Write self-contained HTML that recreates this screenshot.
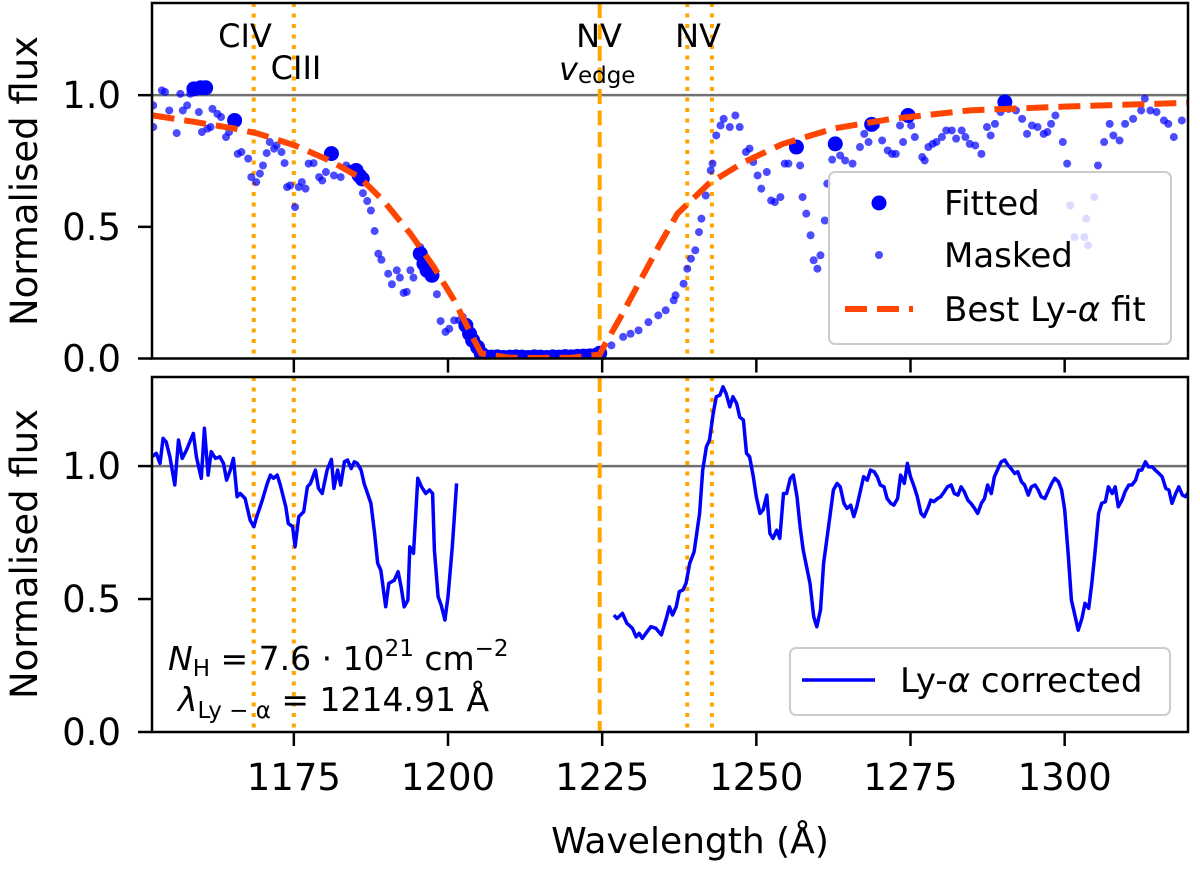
<!DOCTYPE html>
<html><head><meta charset="utf-8">
<style>
html,body{margin:0;padding:0;background:#fff;}
svg text{font-family:"DejaVu Sans","Liberation Sans",sans-serif;fill:#000;}
</style></head>
<body>
<svg id="fig" width="1200" height="876" viewBox="0 0 1200 876" xmlns="http://www.w3.org/2000/svg">
<g id="top"></g>
<g id="bot"></g>
<text x="690" y="853" font-size="36" text-anchor="middle">Wavelength (Å)</text>
<text transform="translate(37,181) rotate(-90)" font-size="37" text-anchor="middle">Normalised flux</text>
<text transform="translate(37,554) rotate(-90)" font-size="37" text-anchor="middle">Normalised flux</text>
</svg>
<script>
const xTicks=[1175,1200,1225,1250,1275,1300];
const yTicks=[0.0,0.5,1.0];
const yTickLabels=["0.0","0.5","1.0"];
const dottedLines=[1168.5,1175.0,1238.8,1242.8];
const edgeLine=1224.6;
const fitWave=[1152.1,1158.8,1165.4,1169.2,1175.2,1180.7,1185.6,1189.5,1193.9,1197.7,1201.0,1203.7,1205.4,1210,1215,1220,1224.6,1225.2,1227.7,1230.9,1234.1,1237.2,1242.3,1248.0,1254.3,1262.5,1271.9,1284.6,1300.4,1320];
const fitFlux=[0.923,0.899,0.873,0.854,0.809,0.753,0.689,0.600,0.474,0.348,0.221,0.094,0.019,0.003,0.002,0.003,0.015,0.043,0.145,0.284,0.423,0.550,0.664,0.746,0.815,0.873,0.910,0.942,0.957,0.971];
const fittedWave=[1158.8,1159.9,1160.7,1165.4,1181.1,1185.1,1185.6,1186.1,1195.5,1196.1,1196.6,1197.4,1202.9,1203.5,1204.0,1204.8,1205.4,1206,1207,1208,1209,1210,1211,1212,1213,1214,1215,1216,1217,1218,1219,1220,1221,1222,1223,1224,1224.6,1256.5,1262.8,1268.7,1274.6,1290.3];
const fittedFlux=[1.024,1.028,1.028,0.904,0.778,0.714,0.695,0.682,0.398,0.360,0.335,0.316,0.126,0.094,0.069,0.043,0.018,0.008,0.005,0.006,0.004,0.005,0.006,0.005,0.004,0.006,0.005,0.004,0.006,0.005,0.007,0.006,0.008,0.009,0.010,0.012,0.020,0.803,0.815,0.889,0.923,0.974];
const maskedWave=[1152.2,1152.2,1153.6,1154.1,1154.8,1156.0,1156.6,1157.0,1157.7,1158.2,1159.6,1160.1,1161.0,1161.5,1161.8,1162.6,1163.2,1164.0,1164.5,1165.9,1166.5,1167.6,1168.1,1168.9,1169.5,1170.0,1170.6,1171.1,1171.8,1172.2,1173.0,1173.5,1173.9,1174.4,1175.2,1175.8,1176.3,1176.9,1177.4,1178.2,1179.1,1179.6,1180.2,1181.5,1182.6,1183.5,1184.0,1186.2,1186.9,1187.5,1188.1,1188.7,1189.2,1190.3,1190.9,1191.7,1192.2,1192.8,1193.3,1193.9,1194.4,1195.5,1198.2,1198.8,1199.6,1200.2,1201.0,1201.8,1202.4,
1226.5,1228.4,1229.6,1230.9,1232.5,1234.1,1235.3,1236.6,1236.9,1238.2,1238.8,1239.4,1240.1,1240.7,1241.1,1241.8,1242.6,1242.9,1243.5,1244.2,1244.7,1245.7,1246.6,1247.3,1248.3,1248.9,1249.5,1250.2,1250.8,1251.7,1252.4,1253.0,1253.9,1254.6,1255.2,1257.1,1257.5,1258.1,1258.8,1259.3,1259.9,1260.4,1261.1,1261.5,1262.3,1263.6,1264.4,1265.6,1266.8,1267.5,1268.2,1269.4,1270.4,1271.3,1272.0,1272.6,1273.3,1273.8,1275.1,1275.7,1276.9,1277.3,1277.9,1278.6,1279.2,1280.1,1280.8,1281.7,1282.4,1283.3,1283.9,1284.6,1285.5,1286.5,1287.4,1288.0,1288.7,1289.6,1290.9,1292.1,1293.1,1293.9,1294.7,1295.6,1296.6,1297.2,1297.8,1298.5,1299.7,1300.4,1300.9,1301.6,1303.2,1303.5,1303.8,1304.8,1305.4,1306.4,1307.3,1307.9,1308.9,1309.8,1311.1,1312.4,1313.0,1313.9,1314.9,1316.1,1316.8,1317.7,1319.0];
const maskedFlux=[0.961,0.879,1.018,1.012,0.942,0.856,1.005,0.942,0.961,1.005,0.936,0.860,0.873,0.879,0.948,0.929,0.917,0.841,0.860,0.777,0.784,0.759,0.689,0.670,0.702,0.733,0.780,0.822,0.797,0.809,0.784,0.742,0.651,0.657,0.575,0.651,0.670,0.645,0.740,0.742,0.689,0.676,0.708,0.695,0.689,0.733,0.721,0.628,0.598,0.562,0.484,0.398,0.375,0.322,0.282,0.335,0.307,0.249,0.253,0.335,0.307,0.423,0.244,0.142,0.101,0.113,0.145,0.145,0.158,
0.050,0.082,0.094,0.107,0.138,0.164,0.183,0.221,0.240,0.284,0.341,0.379,0.411,0.480,0.531,0.619,0.714,0.740,0.847,0.885,0.910,0.879,0.923,0.879,0.784,0.797,0.746,0.695,0.645,0.708,0.600,0.594,0.613,0.740,0.740,0.733,0.613,0.550,0.468,0.373,0.341,0.392,0.524,0.664,0.755,0.771,0.752,0.740,0.803,0.853,0.822,0.885,0.828,0.790,0.777,0.777,0.885,0.822,0.885,0.841,0.765,0.752,0.803,0.815,0.822,0.841,0.866,0.866,0.835,0.866,0.841,0.815,0.809,0.777,0.879,0.847,0.891,0.936,0.948,0.942,0.910,0.853,0.885,0.879,0.853,0.860,0.891,0.923,0.822,0.740,0.581,0.461,0.461,0.531,0.430,0.613,0.733,0.822,0.891,0.847,0.828,0.891,0.910,0.942,0.987,0.942,0.936,0.904,0.891,0.841,0.904];
const corrWave1=[1152.0,1152.7,1153.3,1153.8,1154.3,1154.9,1155.7,1156.3,1156.9,1157.6,1158.7,1159.2,1160.0,1160.5,1161.1,1161.6,1162.3,1163.0,1163.6,1164.1,1164.7,1165.2,1165.8,1166.3,1167.1,1167.9,1168.5,1169.0,1169.8,1170.7,1171.2,1171.7,1172.3,1172.8,1173.7,1174.1,1174.8,1175.2,1175.8,1176.6,1177.2,1177.7,1178.5,1179.0,1179.6,1180.4,1181.1,1181.5,1182.1,1182.6,1183.2,1183.7,1184.3,1184.8,1185.3,1185.9,1186.4,1187.5,1188.1,1188.6,1189.1,1189.9,1190.4,1191.3,1191.9,1192.4,1192.9,1193.5,1193.8,1194.4,1195.1,1195.7,1196.4,1197.0,1197.5,1197.8,1198.4,1198.9,1199.5,1200.0,1200.7,1201.4];
const corrFlux1=[1.035,1.048,1.010,1.104,1.091,1.035,0.929,1.098,1.029,1.060,1.123,1.035,0.954,1.142,0.966,1.054,1.029,1.035,1.010,0.947,0.985,1.029,0.885,0.897,0.878,0.797,0.772,0.810,0.866,0.935,0.966,0.954,0.966,0.929,0.847,0.784,0.772,0.697,0.810,0.828,0.922,0.935,0.985,0.916,0.897,0.985,1.025,0.916,0.985,0.929,1.016,1.023,0.991,1.016,1.010,0.985,0.935,0.860,0.747,0.634,0.609,0.471,0.559,0.571,0.603,0.546,0.471,0.496,0.697,0.672,0.954,0.922,0.897,0.910,0.897,0.684,0.509,0.477,0.421,0.509,0.697,0.935];
const corrWave2=[1226.9,1227.4,1228.3,1229.0,1229.9,1230.5,1231.0,1231.5,1232.1,1232.9,1233.7,1234.6,1235.4,1235.9,1236.4,1237.0,1237.5,1238.1,1238.6,1239.2,1239.9,1240.8,1241.3,1241.9,1242.4,1243.0,1243.5,1244.1,1244.6,1245.1,1245.7,1246.2,1246.8,1247.3,1247.9,1248.4,1248.9,1249.5,1250.0,1250.6,1251.1,1251.7,1252.2,1252.7,1253.3,1253.8,1254.4,1254.9,1255.5,1256.0,1256.6,1257.1,1257.6,1258.7,1259.3,1259.8,1260.4,1260.9,1262.0,1262.5,1263.1,1263.6,1264.2,1264.7,1265.3,1265.8,1266.3,1266.9,1267.4,1268.0,1268.5,1269.1,1269.6,1270.1,1270.7,1271.2,1271.8,1272.3,1272.9,1273.4,1274.0,1274.5,1275.0,1275.6,1276.1,1276.7,1277.2,1277.8,1278.3,1278.8,1279.4,1279.9,1280.5,1281.0,1281.6,1282.1,1282.7,1283.2,1283.7,1284.3,1284.8,1285.4,1285.9,1286.5,1287.0,1287.5,1288.1,1288.6,1289.2,1289.7,1290.3,1290.8,1291.3,1291.9,1292.4,1293.0,1293.5,1294.1,1294.6,1295.2,1295.7,1296.2,1296.8,1297.3,1297.9,1298.4,1299.0,1299.5,1300.0,1300.6,1301.1,1301.7,1302.2,1302.8,1303.3,1303.9,1304.4,1304.9,1305.5,1306.0,1306.6,1307.1,1307.7,1308.2,1308.7,1309.3,1309.8,1310.4,1310.9,1311.5,1312.0,1312.5,1313.1,1313.6,1314.2,1314.7,1315.3,1315.8,1316.4,1316.9,1317.4,1318.0,1318.5,1319.1,1319.6,1320.3];
const corrFlux2=[0.440,0.427,0.446,0.409,0.390,0.358,0.371,0.352,0.371,0.396,0.390,0.365,0.427,0.471,0.440,0.471,0.528,0.534,0.559,0.634,0.678,0.822,0.985,1.073,1.098,1.198,1.261,1.267,1.298,1.273,1.223,1.261,1.236,1.185,1.173,1.048,1.035,0.960,0.885,0.822,0.835,0.891,0.747,0.728,0.759,0.728,0.897,0.897,0.954,0.966,0.885,0.772,0.684,0.559,0.434,0.396,0.459,0.634,0.822,0.910,0.935,0.922,0.860,0.841,0.853,0.810,0.847,0.910,0.960,0.947,0.985,0.979,0.960,0.929,0.922,0.878,0.860,0.853,0.878,0.966,0.935,1.010,0.960,0.922,0.885,0.822,0.810,0.841,0.872,0.866,0.878,0.885,0.904,0.922,0.929,0.897,0.891,0.922,0.904,0.872,0.860,0.841,0.822,0.860,0.878,0.929,0.897,0.960,0.991,1.016,1.023,1.004,0.991,0.972,0.979,0.941,0.929,0.891,0.922,0.929,0.910,0.885,0.878,0.904,0.935,0.954,0.941,0.910,0.835,0.659,0.496,0.434,0.383,0.427,0.484,0.465,0.559,0.672,0.822,0.860,0.866,0.922,0.897,0.922,0.847,0.872,0.904,0.929,0.929,0.947,0.985,0.985,1.016,0.997,0.997,0.985,0.972,0.960,0.916,0.910,0.860,0.897,0.922,0.891,0.885,0.910];

const NS="http://www.w3.org/2000/svg";
const X0=152,X1=1188,W0=1152,W1=1320;
function sx(w){return X0+(w-W0)/(W1-W0)*(X1-X0);}
const topP={g:document.getElementById('top'),y0:358.5,y1:3,ymax:1.35};
const botP={g:document.getElementById('bot'),y0:732,y1:377,ymax:1.335};
function sy(p,v){return p.y0-v/p.ymax*(p.y0-p.y1);}
function mk(parent,tag,attrs){const e=document.createElementNS(NS,tag);for(const k in attrs)e.setAttribute(k,attrs[k]);parent.appendChild(e);return e;}
function pathFrom(p,ws,fs){return ws.map((w,i)=>(i?'L':'M')+sx(w).toFixed(1)+','+sy(p,fs[i]).toFixed(1)).join(' ');}

function drawFrame(p,name,showX){
  const g=p.g;
  const cp=mk(g,'clipPath',{id:'clip-'+name});
  mk(cp,'rect',{x:X0,y:p.y1,width:X1-X0,height:p.y0-p.y1});
  const inner=mk(g,'g',{'clip-path':'url(#clip-'+name+')'});
  
  
  const hl=mk(inner,'line',{x1:X0,x2:X1,y1:sy(p,1),y2:sy(p,1),stroke:'#707070','stroke-width':2.5});
  
  
  dottedLines.forEach(w=>{
    const l=mk(inner,'line',{x1:sx(w),x2:sx(w),y1:p.y1,y2:p.y0,stroke:'#FFA500','stroke-width':4,'stroke-dasharray':'4,6.5'});
    
    
  });
  const el=mk(inner,'line',{x1:sx(edgeLine),x2:sx(edgeLine),y1:p.y1,y2:p.y0,stroke:'#FFA500','stroke-width':4,'stroke-dasharray':'15,6.5'});
  
  
  yTicks.forEach((v,i)=>{
    const y=sy(p,v);
    mk(g,'line',{x1:X0-14,x2:X0,y1:y,y2:y,stroke:'#000','stroke-width':2.5});
    const t=mk(g,'text',{x:X0-31,y:y+13,'font-size':37,'text-anchor':'end'});
    
    
    t.textContent=yTickLabels[i];
  });
  xTicks.forEach(v=>{
    mk(g,'line',{x1:sx(v),x2:sx(v),y1:p.y0,y2:p.y0+14,stroke:'#000','stroke-width':2.5});
    if(showX){
      const t=mk(g,'text',{x:sx(v),y:p.y0+58,'font-size':37,'text-anchor':'middle'});
      
      
      t.textContent=v;
    }
  });
  return inner;
}
const ti=drawFrame(topP,'top',false);
maskedWave.forEach((w,i)=>{
  const c=mk(ti,'circle',{cx:sx(w),cy:sy(topP,maskedFlux[i]),r:4,fill:'#0000FF','fill-opacity':0.7});
  
  
});
fittedWave.forEach((w,i)=>{
  const c=mk(ti,'circle',{cx:sx(w),cy:sy(topP,fittedFlux[i]),r:7.5,fill:'#0000FF'});
  
  
});
const fit=mk(ti,'path',{d:pathFrom(topP,fitWave,fitFlux),fill:'none',stroke:'#FF4500','stroke-width':6,'stroke-dasharray':'22,10'});


const bi=drawFrame(botP,'bottom',true);
[[corrWave1,corrFlux1],[corrWave2,corrFlux2]].forEach(s=>{
  const l=mk(bi,'path',{d:pathFrom(botP,s[0],s[1]),fill:'none',stroke:'#0000FF','stroke-width':3.5,'stroke-linejoin':'round'});
  
  
});
[topP,botP].forEach(p=>{
  const f=mk(p.g,'rect',{x:X0,y:p.y1,width:X1-X0,height:p.y0-p.y1,fill:'none',stroke:'#000','stroke-width':2.5});
  
  
});
</script>
<svg style="position:absolute;left:0;top:0" width="1200" height="876">
<g font-family="DejaVu Sans, Liberation Sans, sans-serif" font-size="32">
<text x="245" y="47" text-anchor="middle">CIV</text>
<text x="296" y="79" text-anchor="middle">CIII</text>
<text x="599" y="47" text-anchor="middle">NV</text>
<text x="559" y="80"><tspan font-style="italic">v</tspan><tspan font-size="23" dy="3">edge</tspan></text>
<text x="698" y="47" text-anchor="middle">NV</text>
</g>
<g>
<rect x="829" y="172" width="342" height="172" rx="6" fill="#fff" fill-opacity="0.8" stroke="#ccc" stroke-width="2"/>
<circle cx="879" cy="203" r="7.5" fill="#0000FF"/>
<circle cx="879" cy="255" r="4" fill="#0000FF" fill-opacity="0.7"/>
<line x1="845" x2="913" y1="309" y2="309" stroke="#FF4500" stroke-width="6" stroke-dasharray="22,10"/>
<g font-family="DejaVu Sans, Liberation Sans, sans-serif" font-size="34">
<text x="944" y="215">Fitted</text>
<text x="944" y="267">Masked</text>
<text x="944" y="321">Best Ly-<tspan font-style="italic">α</tspan> fit</text>
</g></g>
<g>
<rect x="790" y="648" width="380" height="67" rx="6" fill="#fff" fill-opacity="0.8" stroke="#ccc" stroke-width="2"/>
<line x1="802" x2="875" y1="680" y2="680" stroke="#0000FF" stroke-width="3.5"/>
<text x="900" y="692" font-family="DejaVu Sans, Liberation Sans, sans-serif" font-size="34">Ly-<tspan font-style="italic">α</tspan> corrected</text>
</g>
<g font-family="DejaVu Sans, Liberation Sans, sans-serif" font-size="33">
<text x="168" y="670"><tspan font-style="italic">N</tspan><tspan font-size="23" dy="6">H</tspan><tspan dy="-6"> = 7.6 · 10</tspan><tspan font-size="23" dy="-14">21</tspan><tspan dy="14"> cm</tspan><tspan font-size="23" dy="-14">−2</tspan></text>
<text x="178" y="711"><tspan font-style="italic">λ</tspan><tspan font-size="23" dy="7">Ly − α</tspan><tspan dy="-7"> = 1214.91 Å</tspan></text>
</g>
</svg>
</body></html>
